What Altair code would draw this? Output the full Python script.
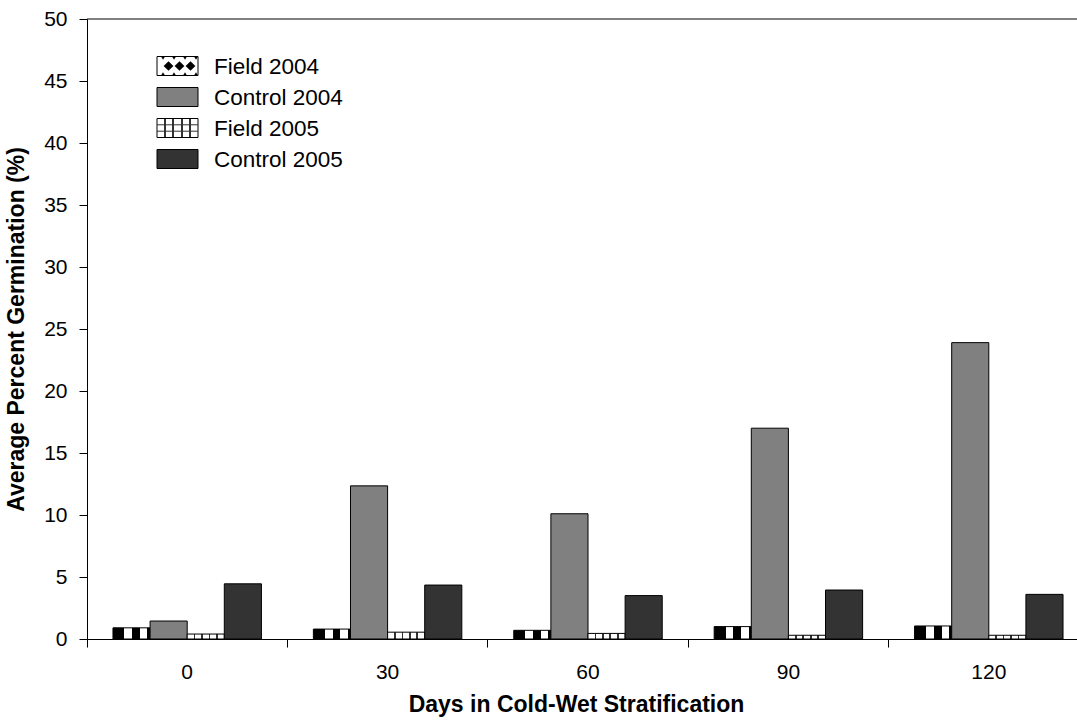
import altair as alt
import pandas as pd

# Germination by days of cold-wet stratification
days = ["0", "30", "60", "90", "120"]
series = ["Field 2004", "Control 2004", "Field 2005", "Control 2005"]
field_2004 = [0.9, 0.8, 0.7, 1.0, 1.05]
control_2004 = [1.45, 12.35, 10.1, 17.0, 23.9]
field_2005 = [0.4, 0.55, 0.45, 0.3, 0.3]
control_2005 = [4.45, 4.35, 3.5, 3.95, 3.6]

values = {
    "Field 2004": field_2004,
    "Control 2004": control_2004,
    "Field 2005": field_2005,
    "Control 2005": control_2005,
}
df = pd.DataFrame(
    [{"days": d, "series": s, "pct": values[s][i]} for s in series for i, d in enumerate(days)]
)

FONT = "Liberation Sans"
W, H = 990, 620
X_RANGE = 1002  # five 200px day groups; the last one runs past the right edge


def hard_stripes(segments):
    """Horizontal linear gradient made of solid stripes: [(end_offset, colour), ...]."""
    stops, start = [], 0.0
    for end, colour in segments:
        stops.append({"offset": start, "color": colour})
        stops.append({"offset": end, "color": colour})
        start = end
    return {"gradient": "linear", "x1": 0, "y1": 0, "x2": 1, "y2": 0, "stops": stops}


def grid_lines(n, colour="#333333", white="#ffffff", w=0.045):
    segs = []
    for k in range(1, n):
        c = k / n
        segs.append((c - w / 2, white))
        segs.append((c + w / 2, colour))
    segs.append((1.0, white))
    return hard_stripes(segs)


checker_fill = hard_stripes(
    [(0.31, "#000000"), (0.52, "#ffffff"), (0.73, "#000000"), (0.93, "#ffffff"), (1.0, "#000000")]
)
fills = {
    "Field 2004": checker_fill,
    "Control 2004": "#808080",
    "Field 2005": grid_lines(5),
    "Control 2005": "#333333",
}

x_enc = alt.X(
    "days:N",
    sort=days,
    scale=alt.Scale(domain=days, range=[0, X_RANGE], paddingInner=0, paddingOuter=0),
    axis=alt.Axis(
        title="Days in Cold-Wet Stratification",
        labelAngle=0,
        bandPosition=0,
        tickSize=8,
        labelPadding=14,
        titlePadding=11,
        titleX=489,
    ),
)
xoff_enc = alt.XOffset(
    "series:N", scale=alt.Scale(domain=series, paddingInner=0, paddingOuter=0.7)
)
y_enc = alt.Y(
    "pct:Q",
    scale=alt.Scale(domain=[0, 50], nice=False),
    axis=alt.Axis(
        title="Average Percent Germination (%)",
        values=list(range(0, 55, 5)),
        tickSize=8,
        labelPadding=12,
        titlePadding=15,
        grid=False,
    ),
)

base = alt.Chart(df)
layers = []
for s in series:
    layers.append(
        base.transform_filter(alt.datum.series == s)
        .mark_bar(fill=fills[s], stroke="#000000", strokeWidth=1)
        .encode(x=x_enc, xOffset=xoff_enc, y=y_enc)
    )

# top frame line
layers.append(
    alt.Chart(pd.DataFrame({"pct": [50]}))
    .mark_rule(color="#000000", strokeWidth=1)
    .encode(y=alt.Y("pct:Q", scale=alt.Scale(domain=[0, 50], nice=False)))
)

# legend, drawn inside the plot area
sym_x0, sym_x1, text_x = 70, 111, 127
centers = [47, 78, 109, 140]
half_h = 9.5
for s, cy in zip(series, centers):
    one = alt.Chart(pd.DataFrame({"label": [s]}))
    layers.append(
        one.mark_rect(
            fill=fills[s] if s != "Field 2004" else "#ffffff", stroke="#000000", strokeWidth=1
        ).encode(
            x=alt.value(sym_x0), x2=alt.value(sym_x1), y=alt.value(cy - half_h), y2=alt.value(cy + half_h)
        )
    )
    layers.append(
        one.mark_text(align="left", baseline="middle", font=FONT, fontSize=22.5, color="#000000").encode(
            x=alt.value(text_x), y=alt.value(cy + 1), text="label:N"
        )
    )

# diamond pattern of the Field 2004 key
cy0 = centers[0]
for dx in [81.5, 92.5, 103.5]:
    layers.append(
        alt.Chart(pd.DataFrame({"k": [dx]}))
        .mark_point(shape="diamond", filled=True, color="#000000", size=95, opacity=1)
        .encode(x=alt.value(dx), y=alt.value(cy0))
    )
for dx in [76, 87, 98, 109]:
    layers.append(
        alt.Chart(pd.DataFrame({"k": [dx]}))
        .mark_point(shape="triangle-down", filled=True, color="#000000", size=18, opacity=1)
        .encode(x=alt.value(dx), y=alt.value(cy0 - half_h + 1.5))
    )
    layers.append(
        alt.Chart(pd.DataFrame({"k": [dx]}))
        .mark_point(shape="triangle-up", filled=True, color="#000000", size=18, opacity=1)
        .encode(x=alt.value(dx), y=alt.value(cy0 + half_h - 1.5))
    )

# horizontal lines of the Field 2005 grid key
cy2 = centers[2]
for dy in [-3.2, 3.2]:
    layers.append(
        alt.Chart(pd.DataFrame({"k": [dy]}))
        .mark_rule(color="#333333", strokeWidth=1)
        .encode(x=alt.value(sym_x0), x2=alt.value(sym_x1), y=alt.value(cy2 + dy))
    )

chart = (
    alt.layer(*layers)
    .properties(
        width=W,
        height=H,
        autosize=alt.AutoSizeParams(type="none"),
        padding={"left": 87, "top": 19, "right": 0, "bottom": 86},
    )
    .configure_view(stroke=None)
    .configure_axis(
        labelFont=FONT,
        titleFont=FONT,
        labelFontSize=21,
        titleFontSize=23,
        titleFontWeight="bold",
        labelColor="#000000",
        titleColor="#000000",
        domainColor="#000000",
        tickColor="#000000",
        domainWidth=1,
        tickWidth=1,
    )
)

chart.save("out.html", embed_options={"renderer": "svg", "actions": False})
